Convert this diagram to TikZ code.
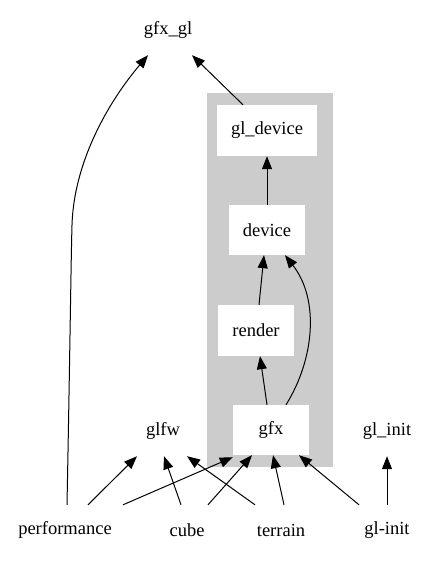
\documentclass[tikz,border=0pt]{standalone}
\usepackage{fontspec}
\setmainfont{Liberation Serif}
\usetikzlibrary{arrows.meta}
\begin{document}
\begin{tikzpicture}[x=1bp,y=-1bp,
  every node/.style={font=\fontsize{18.5bp}{20bp}\selectfont, inner sep=0pt, minimum height=50bp},
  plain/.style={},
  box/.style={fill=white, minimum height=50bp},
  edge/.style={draw=black, line width=1bp, -{Triangle[length=13bp,width=10bp]}}
]
\useasboundingbox (0,0) rectangle (431,561);
\fill[fill={rgb,255:red,204;green,204;blue,204}] (207,93) rectangle (333,467);

\node[plain, minimum width=60bp] (gfxgl) at (168,30) {gfx\_gl};
\node[box, minimum width=100bp, minimum height=51bp] (gldevice) at (267,130.5) {gl\_device};
\node[box, minimum width=76bp] (device) at (267,230) {device};
\node[box, minimum width=76bp, minimum height=51bp] (render) at (256,330.5) {render};
\node[box, minimum width=76bp] (gfx) at (271,430) {gfx};
\node[plain, minimum width=60bp] (glfw) at (163,431) {glfw};
\node[plain, minimum width=60bp] (glinitlib) at (387,431) {gl\_init};
\node[plain, minimum width=100bp] (perf) at (65,530) {performance};
\node[plain, minimum width=60bp] (cube) at (187,530) {cube};
\node[plain, minimum width=60bp] (terrain) at (281,530) {terrain};
\node[plain, minimum width=60bp] (glinit) at (387,530) {gl-init};

\coordinate (bend) at (72,225);

\draw[edge] ([xshift=-24bp]gldevice.north) -- ([xshift=24bp,yshift=0bp]gfxgl.south);
\draw[edge] ([xshift=2bp]perf.north) .. controls (70,350) and (71,260) .. (bend)
   .. controls (74,160) and (110,100) .. ([xshift=-20bp]gfxgl.south);
\draw[edge] (device.north) -- (gldevice.south);
\draw[edge] ([xshift=3bp]render.north) -- ([xshift=-3bp]device.south);
\draw[edge] ([xshift=-4bp]gfx.north) -- ([xshift=4bp]render.south);
\draw[edge] ([xshift=15bp]gfx.north) .. controls (314,360) and (320,300) .. ([xshift=18bp]device.south);
\draw[edge] ([xshift=23bp]perf.north) -- ([xshift=-26bp]glfw.south);
\draw[edge] ([xshift=58bp]perf.north) -- ([yshift=-2bp]gfx.south west);
\draw[edge] ([xshift=-6bp]cube.north) -- ([xshift=1bp]glfw.south);
\draw[edge] ([xshift=21bp]cube.north) -- ([xshift=-19bp]gfx.south);
\draw[edge] ([xshift=-26bp]terrain.north) -- ([xshift=24bp]glfw.south);
\draw[edge] ([xshift=3bp]terrain.north) -- ([xshift=2bp]gfx.south);
\draw[edge] ([xshift=-28bp]glinit.north) -- ([xshift=28bp]gfx.south);
\draw[edge] (glinit.north) -- (glinitlib.south);
\end{tikzpicture}
\end{document}
